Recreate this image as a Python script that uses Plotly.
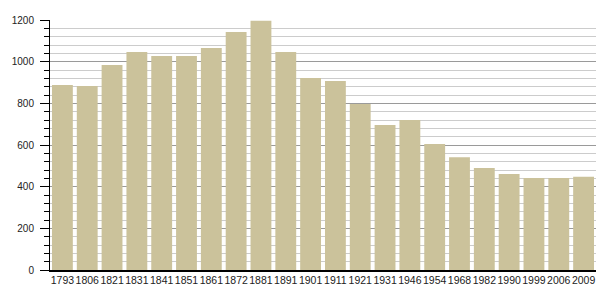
import plotly.graph_objects as go

years = ["1793","1806","1821","1831","1841","1851","1861","1872","1881","1891","1901",
         "1911","1921","1931","1946","1954","1968","1982","1990","1999","2006","2009"]
population = [888, 883, 984, 1046, 1027, 1027, 1066, 1142, 1197, 1046, 922,
              907, 797, 696, 720, 605, 541, 490, 461, 442, 442, 448]

fig = go.Figure(go.Bar(x=years, y=population, marker_color="#CBC29B",
                       marker_line_width=0, width=0.84))
fig.update_layout(
    width=605, height=300, margin=dict(l=50, r=9, t=20, b=30),
    paper_bgcolor="white", plot_bgcolor="white",
    font=dict(family="Liberation Sans, Arial, sans-serif", size=11, color="#222"),
    showlegend=False, bargap=0.16,
)
fig.update_xaxes(type="category", showline=True, linecolor="black", linewidth=1.5,
                 ticks="", tickangle=0, tickfont=dict(size=10.5), showgrid=False,
                 automargin=False)
fig.update_yaxes(range=[0, 1200], dtick=200, showline=True, linecolor="black", linewidth=1,
                 ticks="outside", ticklen=9, tickcolor="black", automargin=False,
                 tickfont=dict(size=10), ticklabelstandoff=4,
                 gridcolor="#9a9a9a", gridwidth=1, zeroline=False,
                 minor=dict(dtick=40, showgrid=True, gridcolor="#cccccc", ticks="outside",
                            ticklen=5, tickcolor="black"))
fig.write_html("out.html")
